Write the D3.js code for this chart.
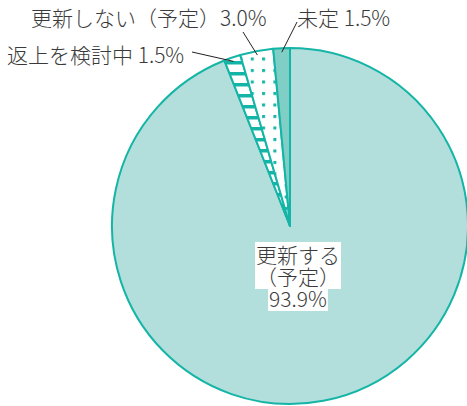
<!DOCTYPE html>
<html>
<head>
<meta charset="utf-8">
<script src="https://cdn.jsdelivr.net/npm/d3@7"></script>
<style>
  body { margin: 0; background: #fff; }
  svg text { font-family: "Noto Sans CJK JP", "Noto Sans", sans-serif; fill: #3a3a3a; font-weight: 300; }
</style>
</head>
<body>
<div id="chart"></div>
<script>
// slices, clockwise from 12 o'clock
const categories = ['更新する（予定）', '返上を検討中', '更新しない（予定）', '未定'];
const values = [93.9, 1.5, 3.0, 1.5];
const fills = ['#b2dfdc', 'url(#stripes)', 'url(#dots)', '#80cfc7'];

const width = 467;
const height = 406;
const cx = 290;
const cy = 226;
const radius = 178;
const teal = '#14b5a6';

const svg = d3.select('#chart')
    .append('svg')
    .attr('width', width)
    .attr('height', height);

const defs = svg.append('defs');

const stripes = defs.append('pattern')
    .attr('id', 'stripes')
    .attr('patternUnits', 'userSpaceOnUse')
    .attr('width', 11)
    .attr('height', 11);
stripes.append('rect').attr('width', 11).attr('height', 11).attr('fill', '#fff');
stripes.append('rect').attr('y', 0).attr('width', 11).attr('height', 3.5).attr('fill', teal);

const dots = defs.append('pattern')
    .attr('id', 'dots')
    .attr('patternUnits', 'userSpaceOnUse')
    .attr('x', 5)
    .attr('y', 3)
    .attr('width', 11.3)
    .attr('height', 11.5);
dots.append('rect').attr('width', 11.3).attr('height', 11.5).attr('fill', '#fff');
dots.append('rect').attr('x', 1).attr('y', 1).attr('width', 3).attr('height', 3).attr('fill', teal);

const data = categories.map((c, i) => ({name: c, value: values[i], fill: fills[i]}));

const pie = d3.pie()
    .sort(null)
    .value(d => d.value);

const arc = d3.arc()
    .innerRadius(0)
    .outerRadius(radius);

const arcs = pie(data);

const g = svg.append('g')
    .attr('transform', `translate(${cx},${cy})`);

g.selectAll('path')
    .data(arcs)
    .enter()
    .append('path')
    .attr('d', arc)
    .attr('fill', d => d.data.fill)
    .attr('stroke', teal)
    .attr('stroke-width', 2)
    .attr('stroke-linejoin', 'round');

// leader lines from the labels to the slice edge
const edge = (d, r) => {
    const a = (d.startAngle + d.endAngle) / 2;
    return [r * Math.sin(a), -r * Math.cos(a)];
};

const callouts = [
    {i: 1, text: '返上を検討中 1.5%', x: 7, y: 63, lx: 192, ly: 52},
    {i: 2, text: '更新しない（予定）3.0%', x: 31, y: 26, lx: 243, ly: 32},
    {i: 3, text: '未定 1.5%', x: 297, y: 26, lx: 297, ly: 22}
];

callouts.forEach(c => {
    const [ex, ey] = edge(arcs[c.i], radius - 4);
    svg.append('line')
        .attr('x1', c.lx)
        .attr('y1', c.ly)
        .attr('x2', cx + ex)
        .attr('y2', cy + ey)
        .attr('stroke', '#222')
        .attr('stroke-width', 1);
    svg.append('text')
        .attr('x', c.x)
        .attr('y', c.y)
        .attr('font-size', 21)
        .text(c.text);
});

// label inside the big slice, white box behind each line
const mainLines = ['更新する', '（予定）', '93.9%'];
const mainG = svg.append('g');
mainLines.forEach((t, k) => {
    const txt = mainG.append('text')
        .attr('x', 298)
        .attr('y', 263 + k * 22)
        .attr('text-anchor', 'middle')
        .attr('font-size', 21)
        .text(t);
    const b = txt.node().getBBox();
    mainG.insert('rect', 'text')
        .attr('x', b.x - 1)
        .attr('y', b.y + 3)
        .attr('width', b.width + 2)
        .attr('height', b.height - 5)
        .attr('fill', '#fff');
});
</script>
</body>
</html>
